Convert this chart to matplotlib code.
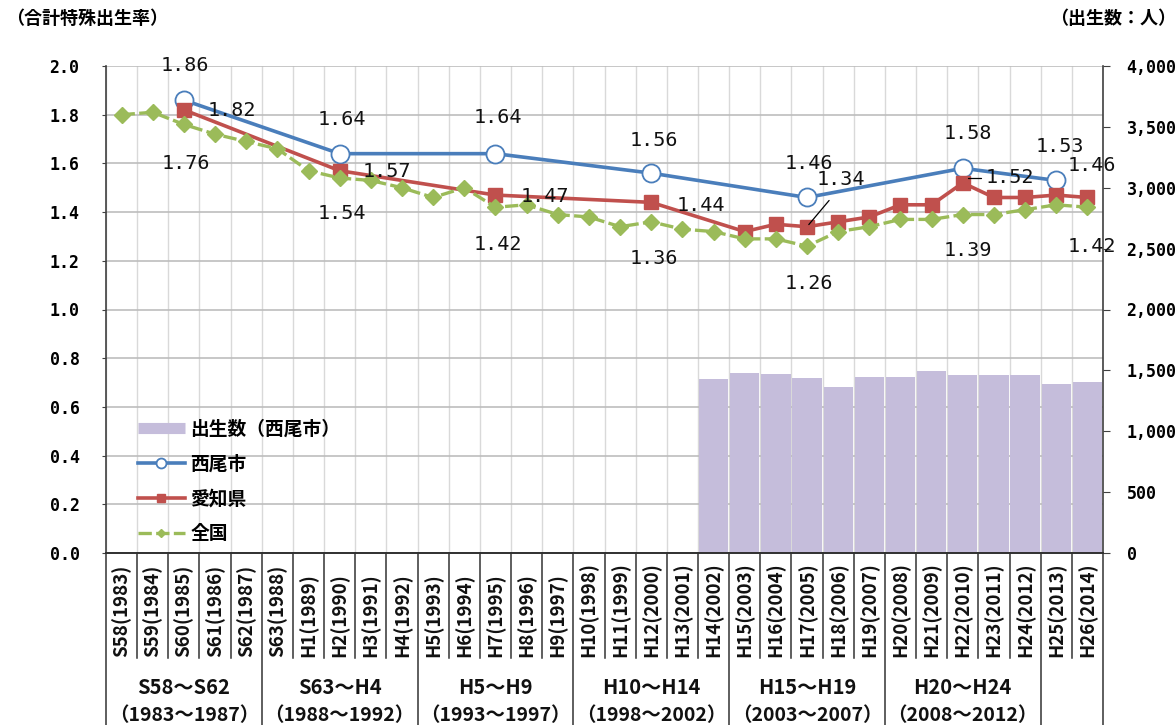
import matplotlib
matplotlib.use("Agg")
import matplotlib.pyplot as plt
import matplotlib.transforms as mtransforms
from matplotlib.lines import Line2D
import numpy as np

plt.rcParams['font.family'] = ['DejaVu Sans', 'Noto Sans CJK JP']

# ---------------- data ----------------
categories = ["S58(1983)", "S59(1984)", "S60(1985)", "S61(1986)", "S62(1987)",
              "S63(1988)", "H1(1989)", "H2(1990)", "H3(1991)", "H4(1992)",
              "H5(1993)", "H6(1994)", "H7(1995)", "H8(1996)", "H9(1997)",
              "H10(1998)", "H11(1999)", "H12(2000)", "H13(2001)", "H14(2002)",
              "H15(2003)", "H16(2004)", "H17(2005)", "H18(2006)", "H19(2007)",
              "H20(2008)", "H21(2009)", "H22(2010)", "H23(2011)", "H24(2012)",
              "H25(2013)", "H26(2014)"]

group_top = ["S58～S62", "S63～H4", "H5～H9", "H10～H14", "H15～H19", "H20～H24"]
group_bottom = ["（1983～1987）", "（1988～1992）", "（1993～1997）",
                "（1998～2002）", "（2003～2007）", "（2008～2012）"]

# 全国 (yearly)
national = [1.80, 1.81, 1.76, 1.72, 1.69, 1.66, 1.57, 1.54, 1.53, 1.50,
            1.46, 1.50, 1.42, 1.43, 1.39, 1.38, 1.34, 1.36, 1.33, 1.32,
            1.29, 1.29, 1.26, 1.32, 1.34, 1.37, 1.37, 1.39, 1.39, 1.41,
            1.43, 1.42]
# 愛知県
aichi = [None, None, 1.82, None, None, None, None, 1.57, None, None,
         None, None, 1.47, None, None, None, None, 1.44, None, None,
         1.32, 1.35, 1.34, 1.36, 1.38, 1.43, 1.43, 1.52, 1.46, 1.46,
         1.47, 1.46]
# 西尾市
nishio = [None, None, 1.86, None, None, None, None, 1.64, None, None,
          None, None, 1.64, None, None, None, None, 1.56, None, None,
          None, None, 1.46, None, None, None, None, 1.58, None, None,
          1.53, None]
# 出生数（西尾市）
births = [None] * 19 + [1427, 1481, 1470, 1435, 1366, 1448, 1448, 1495,
                        1462, 1462, 1462, 1388, 1402]

left_ticks = [0.0, 0.2, 0.4, 0.6, 0.8, 1.0, 1.2, 1.4, 1.6, 1.8, 2.0]
right_ticks = [0, 500, 1000, 1500, 2000, 2500, 3000, 3500, 4000]

# label positions (pixel offsets from point)
nishio_label_off = [(1, -35), (2, -34), (2, -36), (3, -33), (2, -34), (5, -35), (4, -34)]
aichi_label_idx = [2, 7, 12, 17, 22, 27, 31]
aichi_label_off = [(48, 1), (47, 1), (49, 1), (50, 3), (34, -47), (47, -5), (4, -32)]
nat_label_idx = [2, 7, 12, 17, 22, 27, 31]
nat_label_off = [(2, 39), (2, 35), (2, 37), (3, 37), (2, 37), (5, 36), (4, 39)]

# ---------------- style ----------------
C_BLUE = '#4A7EBB'
C_RED = '#C0504D'
C_GREEN = '#9BBB59'
C_BAR = '#C5BDDB'
MONO = ['DejaVu Sans Mono', 'Noto Sans CJK JP']
CJK = ['Noto Sans CJK JP', 'DejaVu Sans']

W, H = 1176, 725
fig = plt.figure(figsize=(W / 100, H / 100), dpi=100)
L, R, B, T = 106 / W, 1103 / W, (H - 553) / H, (H - 66) / H
ax = fig.add_axes([L, B, R - L, T - B])
axb = ax.twinx()
axl = ax.twinx()
ax.set_zorder(0)
axb.set_zorder(1)
axl.set_zorder(2)
axb.patch.set_visible(False)
axl.patch.set_visible(False)

n = len(categories)
x = np.arange(n)
ax.set_xlim(-0.5, n - 0.5)
ax.set_ylim(0, 2)
axl.set_ylim(0, 2)
axb.set_ylim(0, 4000)

# grid
ax.set_xticks([])
ax.set_xticks(np.arange(n + 1) - 0.5, minor=True)
ax.tick_params(axis='x', which='both', length=0, labelbottom=False)
ax.xaxis.grid(True, which='minor', color='#D9D9D9', lw=1.0)
ax.set_yticks(left_ticks)
ax.set_yticklabels([f"{v:.1f}" for v in left_ticks], fontfamily=MONO,
                   fontweight='bold', fontsize=12)
ax.tick_params(axis='y', length=3, pad=16, color='#404040')
ax.yaxis.grid(True, color='#BDBDBD', lw=1.2)
ax.set_axisbelow(True)
for s in ['top', 'right', 'bottom']:
    ax.spines[s].set_visible(False)
ax.spines['left'].set_color('#404040')
ax.spines['left'].set_linewidth(1.2)

# bars
bx = [i for i, v in enumerate(births) if v is not None]
bv = [v for v in births if v is not None]
axb.bar(bx, bv, width=0.94, color=C_BAR, zorder=1)
axb.set_yticks(right_ticks)
axb.set_yticklabels([f"{v:,}" for v in right_ticks], fontfamily=MONO,
                    fontweight='bold', fontsize=12)
axb.tick_params(axis='y', length=5, pad=12, color='#404040')
for s in ['top', 'left', 'bottom']:
    axb.spines[s].set_visible(False)
axb.spines['right'].set_color('#404040')
axb.spines['right'].set_linewidth(1.2)

# lines
axl.set_yticks([])
for s in ['top', 'left', 'right']:
    axl.spines[s].set_visible(False)
axl.spines['bottom'].set_color('#303030')
axl.spines['bottom'].set_linewidth(1.4)

def xy(series):
    xs = [i for i, v in enumerate(series) if v is not None]
    ys = [v for v in series if v is not None]
    return xs, ys

nx, ny = xy(nishio)
ax_, ay = xy(aichi)
gx, gy = xy(national)
l_n, = axl.plot(nx, ny, color=C_BLUE, lw=2.6, marker='o', ms=13,
                mfc='white', mec=C_BLUE, mew=1.3, zorder=3, label='西尾市')
l_a, = axl.plot(ax_, ay, color=C_RED, lw=2.6, marker='s', ms=9.5,
                mfc=C_RED, mec=C_RED, zorder=4, label='愛知県')
l_g, = axl.plot(gx, gy, color=C_GREEN, lw=2.4, marker='D', ms=8,
                mfc=C_GREEN, mec=C_GREEN, zorder=5, label='全国',
                dashes=(4.0, 1.3))

PX = 0.72  # px -> pt

def lab(i, v, off, **kw):
    return axl.annotate(f"{v:.2f}", xy=(i, v), xytext=(off[0] * PX, -off[1] * PX),
                        textcoords='offset points', ha='center', va='center',
                        fontsize=14.5, fontfamily=MONO, color='#111111', zorder=10, **kw)

for (i, v), off in zip(zip(nx, ny), nishio_label_off):
    lab(i, v, off)
for i, off in zip(aichi_label_idx, aichi_label_off):
    if i == 22:
        lab(i, aichi[i], off, arrowprops=dict(arrowstyle='-', color='black', lw=0.9,
                                              relpos=(0.45, 0.0), shrinkA=8, shrinkB=2))
    elif i == 27:
        lab(i, aichi[i], off, arrowprops=dict(arrowstyle='-', color='black', lw=0.9,
                                              relpos=(0.0, 0.5), shrinkA=1, shrinkB=5,
                                              connectionstyle='angle,angleA=0,angleB=90,rad=0'))
    else:
        lab(i, aichi[i], off)
for i, off in zip(nat_label_idx, nat_label_off):
    lab(i, national[i], off)

# legend
bar_proxy = Line2D([], [], color=C_BAR, lw=8, solid_capstyle='butt')
leg = axl.legend([bar_proxy, l_n, l_a, l_g], ['出生数（西尾市）', '西尾市', '愛知県', '全国'],
                 loc='upper left', bbox_to_anchor=((138 - 106) / 997, (553 - 420) / 487),
                 frameon=False, borderpad=0, borderaxespad=0, handlelength=2.5,
                 handletextpad=0.3, labelspacing=0.84, markerscale=0.55,
                 prop={'family': CJK, 'weight': 'bold', 'size': 13.5})

# category table below axis
trans = mtransforms.blended_transform_factory(ax.transData, ax.transAxes)
px_axes = lambda ypx: (553 - ypx) / 487
for k in range(n + 1):
    xb = k - 0.5
    full = (k % 5 == 0) or (k == n)
    yend = px_axes(730) if full else px_axes(658)
    axl.add_artist(Line2D([xb, xb], [0, yend], transform=trans, clip_on=False,
                          color='#333333', lw=1.1))
for i, c in enumerate(categories):
    axl.text(i, px_axes(657), c, transform=trans, rotation=90, ha='center', va='bottom',
             fontsize=13.5, fontweight='bold', fontfamily=CJK, color='#111111')
for g, (t1, t2) in enumerate(zip(group_top, group_bottom)):
    xc = g * 5 + 2
    axl.text(xc, px_axes(687), t1, transform=trans, ha='center', va='center',
             fontsize=14.5, fontweight='bold', fontfamily=CJK, color='#111111')
    axl.text(xc, px_axes(716), t2, transform=trans, ha='center', va='center',
             fontsize=14, fontweight='bold', fontfamily=CJK, color='#111111')

# axis titles
fig.text(6 / W, 1 - 18 / H, '（合計特殊出生率）', ha='left', va='center',
         fontsize=13, fontweight='bold', fontfamily=CJK)
fig.text(1176 / W, 1 - 18 / H, '（出生数：人）', ha='right', va='center',
         fontsize=13, fontweight='bold', fontfamily=CJK)

fig.savefig('out.png', dpi=100)
